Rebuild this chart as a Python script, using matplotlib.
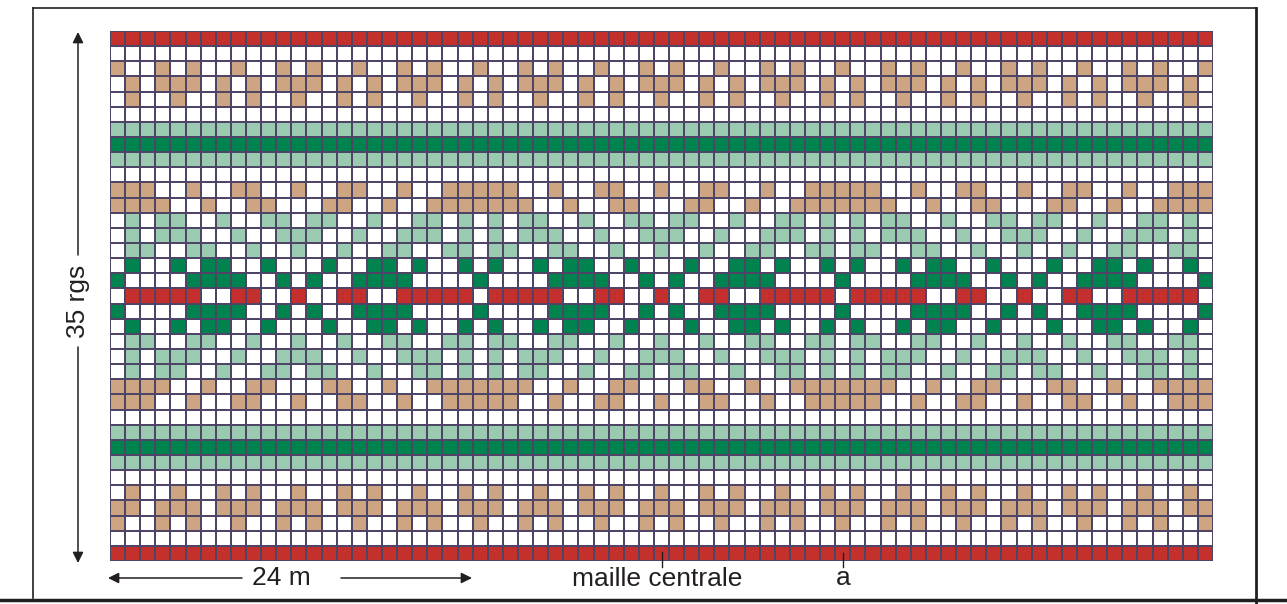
import matplotlib.pyplot as plt
from matplotlib.colors import ListedColormap
import numpy as np

# colour codes: . white, t tan, g light green, G dark green, r red
codes = ".tgGr"
colours = ["#ffffff", "#cda582", "#9acab0", "#00834f", "#c4302b"]

n_cols = 73
n_rows = 35

# 8-stitch border repeats
border_a = "t..t.t.."
border_b = ".t.ttt.t"
border_c = ".t..t..t"
border_d = "tt.ttt.t"

# 24-stitch motif repeat (rows 10..17, mirrored below row 17)
motif = [
    "ttt..t..tt..t..tt..t..tt",
    "tttt..t..tt...tt..t..ttt",
    ".g.gg..g..gg.gg..g..gg.g",
    ".g.ggg..g..ggg..g..ggg.g",
    ".gg..gg..g..g..g..gg..gg",
    ".G..G.GG..G...G..GG.G..G",
    "G....GGGG..G.G..GGGG....",
    ".rrrrr..rr..r..rr..rrrrr",
]

row_repeats = (
    ["r", ".", border_a, border_b, border_c, ".", "g", "G", "g", "."]
    + motif + motif[-2::-1]
    + [".", "g", "G", "g", ".", border_c, border_d, border_a, ".", "r"]
)


def full_row(rep):
    return [codes.index(rep[i % len(rep)]) for i in range(n_cols)]


grid = np.array([full_row(r) for r in row_repeats])

W, H = 1287, 604
fig = plt.figure(figsize=(W / 100, H / 100), dpi=100)
plt.rcParams['font.family'] = ['Liberation Sans', 'DejaVu Sans']

# grid chart
gl, gr, gt, gb = 110, 1213, 31, 561
ax = fig.add_axes([gl / W, 1 - gb / H, (gr - gl) / W, (gb - gt) / H])
ax.pcolormesh(np.arange(n_cols + 1), np.arange(n_rows + 1), grid,
              cmap=ListedColormap(colours), vmin=-0.5, vmax=4.5,
              edgecolors="#4e4466", linewidth=1.1)
ax.set_xlim(0, n_cols)
ax.set_ylim(n_rows, 0)
ax.axis("off")

# annotations in pixel space
ov = fig.add_axes([0, 0, 1, 1], zorder=-1)
ov.set_xlim(0, W)
ov.set_ylim(H, 0)
ov.axis("off")
ink = "#231f20"

# frame
ov.plot([33, 1256], [8, 8], color=ink, lw=1.2)
ov.plot([33, 33], [8, 598], color=ink, lw=1.2)
ov.plot([1256, 1256], [8, 604], color=ink, lw=2)
ov.plot([0, W], [600, 600], color=ink, lw=2.5)

ov2 = fig.add_axes([0, 0, 1, 1], zorder=5)
ov2.set_xlim(0, W)
ov2.set_ylim(H, 0)
ov2.axis("off")
ov2.patch.set_alpha(0)

arrow = dict(arrowstyle="-|>", color=ink, lw=1.1, mutation_scale=16, shrinkA=0, shrinkB=0)
# vertical arrow: 35 rgs
ov2.annotate("", xy=(78, 32), xytext=(78, 255), arrowprops=arrow)
ov2.annotate("", xy=(78, 563), xytext=(78, 347), arrowprops=arrow)
ov2.text(78, 301, "35 rgs", rotation=90, ha="center", va="center", fontsize=19, color=ink)

# horizontal arrow: 24 m
ov2.annotate("", xy=(108, 578), xytext=(242, 578), arrowprops=arrow)
ov2.annotate("", xy=(472, 578), xytext=(341, 578), arrowprops=arrow)
ov2.text(281, 578, "24 m", ha="center", va="center", fontsize=19, color=ink)

# centre stitch and mark a
ov2.plot([661.5, 661.5], [552, 567], color=ink, lw=1)
ov2.text(657, 579, "maille centrale", ha="center", va="center", fontsize=19, color=ink)
ov2.plot([843, 843], [553, 567], color=ink, lw=1)
ov2.text(843, 578, "a", ha="center", va="center", fontsize=19, color=ink)

fig.savefig("out.png", dpi=100)
